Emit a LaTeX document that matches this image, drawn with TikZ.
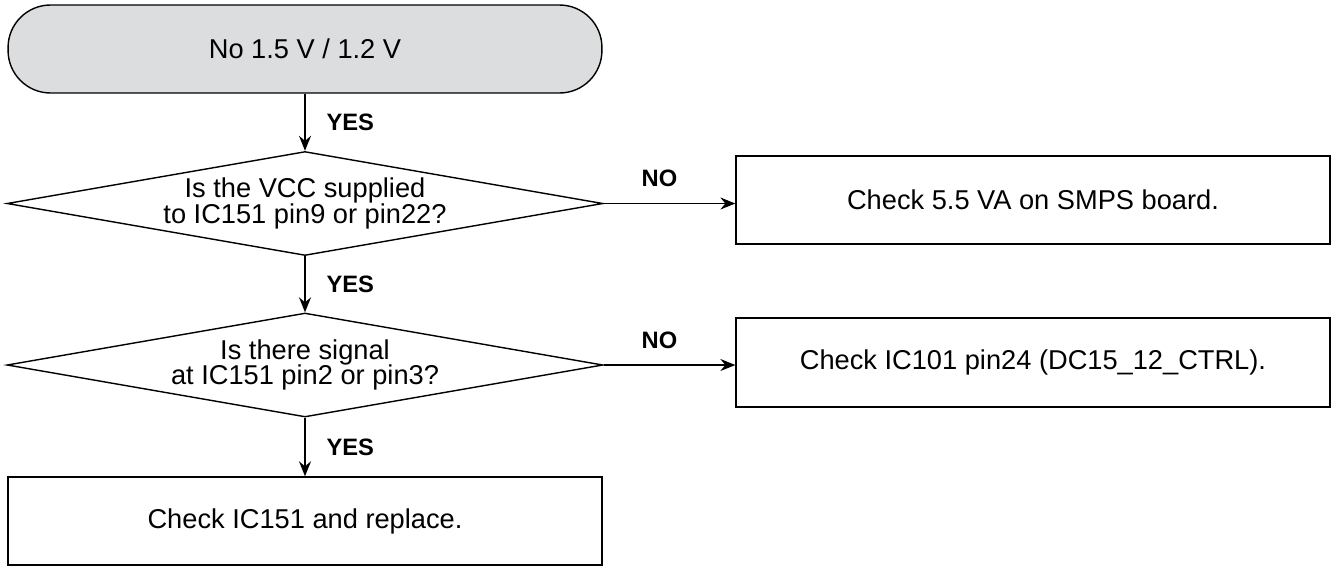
\documentclass[tikz,border=0pt]{standalone}
\usepackage{fontspec}
\usepackage{tikz}
\usetikzlibrary{shapes.geometric,arrows.meta}
\setmainfont{Liberation Sans}
\definecolor{startgray}{HTML}{DCDDDE}

\begin{document}
\begin{tikzpicture}[x=0.02cm,y=-0.02cm,
      line width=0.8pt,
      box/.style={rectangle,draw,minimum width=11.88cm,minimum height=1.76cm,
                  align=center,font=\fontsize{15.5}{15.5}\selectfont},
      startbox/.style={box,rounded corners=0.85cm,fill=startgray},
      ask/.style={diamond,draw,aspect=5.7,inner sep=0pt,
                  minimum width=11.92cm,minimum height=2.08cm,
                  align=center,font=\fontsize{15.5}{14.5}\selectfont},
      lbl/.style={font=\bfseries\fontsize{13.5}{13.5}\selectfont},
      arr/.style={-{Stealth[length=0.3cm,width=0.24cm,inset=0.1cm]}}]
    \useasboundingbox (0,0) rectangle (1332,566);
    %% ── Left column: top → bottom ────────────────────────────
    \node[startbox]            (start) at (305, 49)   {No 1.5 V / 1.2 V};
    \node[ask]                 (vcc)   at (305, 203.5){Is the VCC supplied\\to IC151 pin9 or pin22?};
    \node[ask]                 (sig)   at (305, 365)  {Is there signal\\at IC151 pin2 or pin3?};
    \node[box]                 (repl)  at (305, 521)  {Check IC151 and replace.};
    %% ── Right column: NO branches ───────────────────────────
    \node[box]                 (smps)  at (1033,200)  {Check 5.5 VA on SMPS board.};
    \node[box,minimum height=1.78cm] (ctrl) at (1033,362.5) {Check IC101 pin24 (DC15\_12\_CTRL).};
    %% ── YES arrows ───────────────────────────────────────────
    \draw[arr] (start)--(vcc) node[lbl,midway,right=0.3cm] {YES};
    \draw[arr] (vcc)--(sig)   node[lbl,midway,right=0.3cm] {YES};
    \draw[arr] (sig)--(repl)  node[lbl,midway,right=0.3cm] {YES};
    %% ── NO arrows ────────────────────────────────────────────
    \draw[arr] (vcc.east)--(vcc.east -| smps.west)
      node[lbl,midway,above=0.2cm,xshift=-0.2cm] {NO};
    \draw[arr] (sig.east)--(sig.east -| ctrl.west)
      node[lbl,midway,above=0.2cm,xshift=-0.2cm] {NO};
  \end{tikzpicture}
\end{document}
